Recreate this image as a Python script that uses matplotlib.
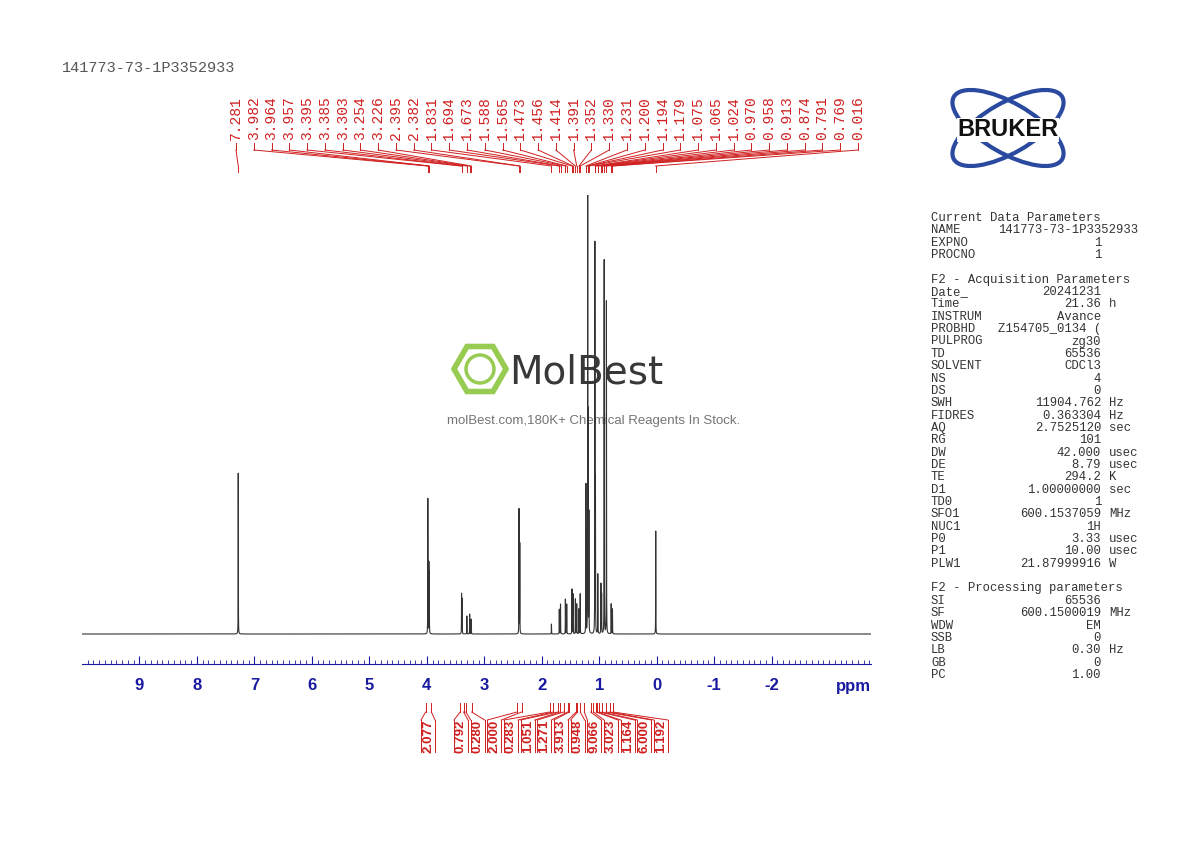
import numpy as np
import matplotlib.pyplot as plt
from matplotlib.transforms import blended_transform_factory
from matplotlib.patches import Ellipse, RegularPolygon, Circle
from matplotlib import font_manager

plt.rcParams["axes.unicode_minus"] = False

# peaks: ppm position, height (arbitrary units ~ px)
peak_ppm = [7.281, 3.982, 3.964, 3.957, 3.395, 3.385, 3.303, 3.254, 3.226, 2.395, 2.382,
            1.831, 1.694, 1.673, 1.588, 1.565, 1.473, 1.456, 1.414, 1.391, 1.352, 1.330,
            1.231, 1.200, 1.194, 1.179, 1.075, 1.065, 1.024, 0.970, 0.958, 0.913, 0.874,
            0.791, 0.769, 0.016]
peak_h = [161, 135, 70, 60, 40, 35, 18, 20, 15, 125, 90,
          10, 25, 30, 35, 30, 45, 40, 35, 30, 25, 40,
          150, 431, 200, 120, 390, 150, 60, 50, 40, 375, 335,
          30, 25, 103]
peak_labels = ["%.3f" % p for p in peak_ppm]

integ_vals = ["2.077", "0.792", "0.280", "2.000", "0.283", "1.051", "1.271", "3.913",
              "0.948", "9.066", "3.023", "1.164", "6.000", "1.192"]
integ_lo = [3.92, 3.36, 3.22, 2.35, 1.80, 1.68, 1.55, 1.40, 1.33, 1.15, 1.05, 1.00, 0.88, 0.76]
integ_hi = [4.02, 3.42, 3.32, 2.43, 1.86, 1.72, 1.62, 1.52, 1.38, 1.26, 1.10, 1.04, 0.95, 0.82]

params = [
    ("Current Data Parameters", None, None),
    ("NAME", "141773-73-1P3352933", "wide"),
    ("EXPNO", "1", ""), ("PROCNO", "1", ""), ("", None, None),
    ("F2 - Acquisition Parameters", None, None),
    ("Date_", "20241231", ""), ("Time", "21.36", "h"), ("INSTRUM", "Avance", ""),
    ("PROBHD", "Z154705_0134 (", ""), ("PULPROG", "zg30", ""), ("TD", "65536", ""),
    ("SOLVENT", "CDCl3", ""), ("NS", "4", ""), ("DS", "0", ""),
    ("SWH", "11904.762", "Hz"), ("FIDRES", "0.363304", "Hz"), ("AQ", "2.7525120", "sec"),
    ("RG", "101", ""), ("DW", "42.000", "usec"), ("DE", "8.79", "usec"),
    ("TE", "294.2", "K"), ("D1", "1.00000000", "sec"), ("TD0", "1", ""),
    ("SFO1", "600.1537059", "MHz"), ("NUC1", "1H", ""), ("P0", "3.33", "usec"),
    ("P1", "10.00", "usec"), ("PLW1", "21.87999916", "W"), ("", None, None),
    ("F2 - Processing parameters", None, None),
    ("SI", "65536", ""), ("SF", "600.1500019", "MHz"), ("WDW", "EM", ""),
    ("SSB", "0", ""), ("LB", "0.30", "Hz"), ("GB", "0", ""), ("PC", "1.00", ""),
]

names = {f.name for f in font_manager.fontManager.ttflist}
narrow = "Liberation Sans Narrow" if "Liberation Sans Narrow" in names else "DejaVu Sans"

W, H = 1190, 842
fig = plt.figure(figsize=(W / 100, H / 100), dpi=100)
ov = fig.add_axes([0, 0, 1, 1])
ov.set_xlim(0, W)
ov.set_ylim(H, 0)
ov.axis("off")

# spectrum axes: x 82..871 px, y 195..664 px
ax = fig.add_axes([82 / W, 1 - 664 / H, (871 - 82) / W, (664 - 195) / H])
ax.patch.set_alpha(0)
x = np.linspace(10, -3.73, 40000)
y = np.zeros_like(x)
wid = 0.0015
for p, h in zip(peak_ppm, peak_h):
    y += h * wid ** 2 / ((x - p) ** 2 + wid ** 2)
ax.plot(x, y, color="#333333", lw=0.8)
ax.set_xlim(10, -3.73)
ax.set_ylim(-30, 439)
for s in ["top", "left", "right"]:
    ax.spines[s].set_visible(False)
ax.spines["bottom"].set_color("#1a1aa0")
ax.set_yticks([])
ax.set_xticks(np.arange(-2, 10))
ax.set_xticks(np.arange(-3.7, 10, 0.1), minor=True)
ax.tick_params(axis="x", which="major", direction="in", length=6, colors="#1a1aa0",
               labelsize=12, pad=10)
ax.tick_params(axis="x", which="minor", direction="in", length=3, color="#1a1aa0")
for t in ax.get_xticklabels():
    t.set_fontweight("bold")
    t.set_family("Liberation Sans")
ov.text(853, 686, "ppm", color="#1a1aa0", fontsize=12, fontweight="bold", ha="center",
        va="center", family="Liberation Sans")

tr = blended_transform_factory(ax.transData, ov.transData)
red = "#d02020"

# peak labels
lab_x = np.linspace(236, 858, len(peak_ppm))
for lx, p, lab in zip(lab_x, peak_ppm, peak_labels):
    ov.text(lx, 140, lab, rotation=90, ha="center", va="bottom", color=red,
            fontsize=10.5, family="Liberation Mono")
    ov.plot([lx, lx], [143, 150], color=red, lw=0.7)
    px_ov = ov.transData.inverted().transform(ax.transData.transform((p, 0)))[0]
    ov.plot([lx, px_ov], [150, 166], color=red, lw=0.7)
    ov.plot([p, p], [166, 172], color=red, lw=0.7, transform=tr)

# integrals
int_x = np.concatenate([[428], np.linspace(461, 661, len(integ_vals) - 1)])
for lx, lo, hi, v in zip(int_x, integ_lo, integ_hi, integ_vals):
    for e, side in ((hi, -7), (lo, 7)):
        ov.plot([e, e], [703, 712], color=red, lw=0.7, transform=tr)
        ex = ov.transData.inverted().transform(ax.transData.transform((e, 0)))[0]
        ov.plot([ex, lx + side], [712, 720], color=red, lw=0.7)
        ov.plot([lx + side, lx + side], [720, 752], color=red, lw=0.7)
    ov.text(lx, 736, v, rotation=90, ha="center", va="center", color=red,
            fontsize=9.5, fontweight="bold", family="Liberation Sans")

# title
ov.text(62, 68, "141773-73-1P3352933", color="#555555", fontsize=11,
        family="Liberation Mono", va="center")

# parameters
y0 = 218
for i, (k, v, u) in enumerate(params):
    yy = y0 + i * 12.35
    ov.text(931, yy, k, fontsize=8.8, family="Liberation Mono", va="center", color="#333333")
    if v:
        ov.text(1138 if u == "wide" else 1101, yy, v, fontsize=8.8, family="Liberation Mono",
                va="center", ha="right", color="#333333")
    if u and u != "wide":
        ov.text(1109, yy, u, fontsize=8.8, family="Liberation Mono", va="center", color="#333333")

# Bruker logo
blue = "#2a4aa0"
for ang in (30, -30):
    ov.add_patch(Ellipse((1008, 128), 125, 50, angle=ang, fill=False, ec=blue, lw=3))
ov.text(1008, 130, "BRUKER", fontsize=17, fontweight="heavy", ha="center", va="center",
        color="#111111", family="Liberation Sans",
        bbox=dict(fc="white", ec="none", pad=0.3))

# watermark
ov.add_patch(RegularPolygon((480, 369), 6, radius=26, orientation=np.pi / 6,
                            fill=False, ec="#8cc63f", lw=4, alpha=0.9))
ov.add_patch(Circle((480, 369), 14, fill=False, ec="#8cc63f", lw=2.5, alpha=0.9))
ov.text(509, 373, "MolBest", fontsize=36 if narrow != "DejaVu Sans" else 28,
        ha="left", va="center", color="#222222", family=narrow, alpha=0.9)
ov.text(594, 421, "molBest.com,180K+ Chemical Reagents In Stock.", fontsize=9.5,
        ha="center", va="center", color="#666666", alpha=0.9, family="Liberation Sans")

fig.savefig("out.png", dpi=100)
